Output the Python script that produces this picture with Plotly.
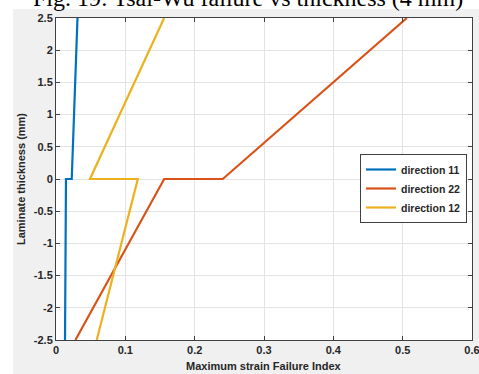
import plotly.graph_objects as go

# Data (x = failure index, y = laminate thickness in mm)
thickness = [-2.5, 0.0, 0.0, 2.5]
dir11 = [0.013, 0.0144, 0.0227, 0.031]
dir22 = [0.028, 0.156, 0.2405, 0.506]
dir12 = [0.0587, 0.118, 0.049, 0.156]
names = ["direction 11", "direction 22", "direction 12"]
colors = ["#0072BD", "#D95319", "#EDB120"]
xticks = [0, 0.1, 0.2, 0.3, 0.4, 0.5, 0.6]
yticks = [-2.5, -2, -1.5, -1, -0.5, 0, 0.5, 1, 1.5, 2, 2.5]

W, H = 479, 374
ML, MR, MT, MB = 56, 7, 18, 34
PW, PH = W - ML - MR, H - MT - MB

def px(xp):
    return (xp - ML) / PW

def py(yp):
    return (H - MB - yp) / PH

fig = go.Figure()
for vals, name, c in zip([dir11, dir22, dir12], names, colors):
    fig.add_trace(go.Scatter(x=vals, y=thickness, mode="lines", name=name,
                             line=dict(color=c, width=2.2)))

lab_font = dict(family="Liberation Sans, Arial", size=11, color="#262626", weight="bold")
axis_common = dict(showline=True, linecolor="#404040", linewidth=1, mirror="ticks",
                   ticks="inside", ticklen=4, tickcolor="#404040", automargin=False,
                   showgrid=True, gridcolor="#e3e3e3", gridwidth=1, zeroline=False,
                   tickfont=lab_font, ticklabeloverflow="allow")

fig.update_layout(
    width=W, height=H,
    margin=dict(l=ML, r=MR, t=MT, b=MB, autoexpand=False),
    paper_bgcolor="#f0f0f0", plot_bgcolor="white",
    showlegend=True,
    legend=dict(x=px(467), y=py(154), xanchor="right", yanchor="top",
                bgcolor="white", bordercolor="#404040", borderwidth=1,
                font=dict(family="Liberation Sans, Arial", size=10.5, color="#262626", weight="bold"),
                tracegroupgap=0, itemwidth=30),
    xaxis=dict(range=[0, 0.6], tickvals=xticks, ticktext=[f"{v:g}" for v in xticks],
               **axis_common),
    yaxis=dict(range=[-2.5, 2.5], tickvals=yticks, ticktext=[f"{v:g}" for v in yticks],
               **axis_common),
    shapes=[
        dict(type="rect", xref="paper", yref="paper", x0=px(0), x1=px(13), y0=py(H), y1=py(0),
             fillcolor="white", line=dict(width=0), layer="below"),
        dict(type="rect", xref="paper", yref="paper", x0=px(0), x1=px(W), y0=py(9), y1=py(0),
             fillcolor="white", line=dict(width=0), layer="below"),
    ],
    annotations=[
        dict(text="Fig. 19: Tsai-Wu failure vs thickness (4 mm)", xref="paper", yref="paper",
             x=px(248), y=py(13), xanchor="center", yanchor="bottom", showarrow=False,
             font=dict(family="Liberation Serif, Times New Roman", size=24, color="black")),
        dict(text="Maximum strain Failure Index", xref="paper", yref="paper",
             x=px(264), y=py(366), xanchor="center", yanchor="middle", showarrow=False,
             font=lab_font),
        dict(text="Laminate thickness (mm)", xref="paper", yref="paper", textangle=-90,
             x=px(21), y=py(179), xanchor="center", yanchor="middle", showarrow=False,
             font=lab_font),
    ],
)

fig.write_html("out.html", config={"displayModeBar": False},
               post_script="document.body.style.margin='0';document.body.style.overflow='hidden';")
